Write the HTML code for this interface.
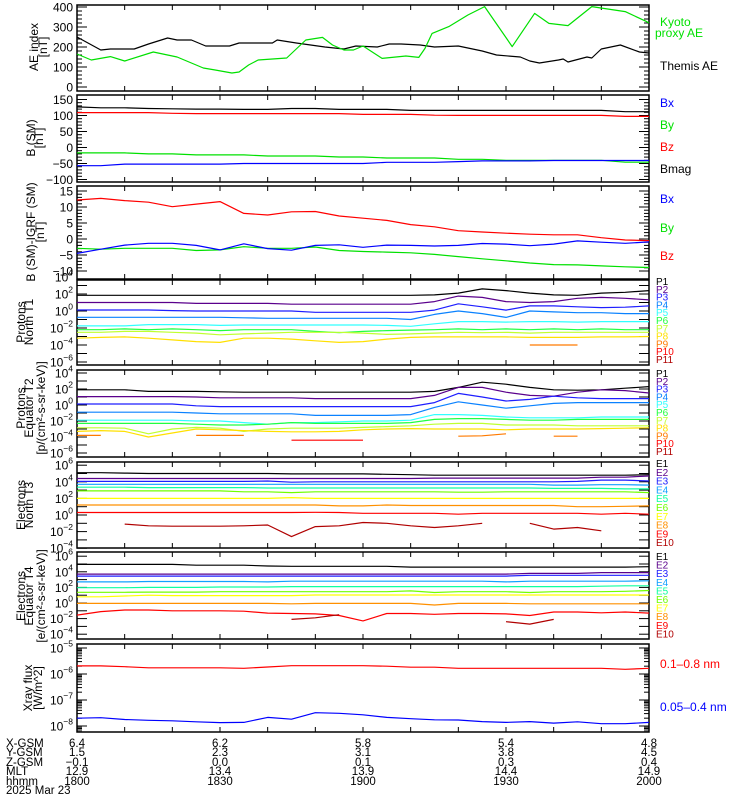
<!DOCTYPE html>
<html><head><meta charset="utf-8"><style>
html,body{margin:0;padding:0;background:#fff;}
svg{display:block;font-family:"Liberation Sans",sans-serif;}
</style></head><body>
<svg id="chart" width="750" height="800" viewBox="0 0 750 800" xmlns="http://www.w3.org/2000/svg"></svg>
<script>
// ---------- DATA ----------
const grid5 = [0,5,10,15,20,25,30,35,40,45,50,55,60,65,70,75,80,85,90,95,100,105,110,115,120];
const aeKyotoT = [0,3,7,10,16,21,24,26.5,29,32.5,34,36,38,44,48,51.5,53.6,56,58,60,64,69,71.7,73,74.5,78,82,85.5,91.3,96,99,103,108,115,119.5,120];
const aeKyoto = [165,135,152,130,175,150,120,95,85,70,75,110,135,145,235,248,210,185,185,205,143,155,148,193,268,302,360,402,202,368,318,307,402,377,327,320];
const aeThemisT = [0,5,7,12,15,19,21,24,27,32,34,41,42,46,52,56,58.5,63,65.5,68,72,75,80,85,88,93,95,97,101,102,103,107,108,110,114,118,120];
const aeThemis = [250,185,190,190,215,245,235,235,205,205,220,220,235,220,200,190,205,200,215,215,210,200,205,180,160,150,130,120,135,140,125,150,145,190,210,175,170];

const bBx = [-57,-57,-52,-52,-52,-52,-52,-50,-50,-50,-50,-50,-50,-46.4,-46.4,-46.4,-44,-42,-42,-42,-40.6,-40.6,-40.6,-40.6,-40.6];
const bBy = [-17,-17,-17,-20,-20,-23,-23,-23,-26.5,-26.5,-26.5,-29.7,-29.7,-32.8,-32.8,-32.8,-37,-37,-40,-40,-40,-40,-40,-46,-46];
const bBz = [109,109,109,109,107,106,106,106,106,106,106,106,103.5,103.5,103.5,101,100.4,100.4,100.4,100.4,100.4,100.4,100.4,97.3,97.3];
const bBmag = [127,124,124,122,121,120,120,119,119,122,122,119,119,119,116,116,116,116,116,116,116,116,116,112,112];

const dBx = [-4.5,-3.2,-1.9,-1.35,-1.35,-2.0,-3.4,-1.5,-3.0,-3.5,-2.0,-1.8,-2.6,-1.9,-2.0,-2.2,-2.0,-1.4,-1.6,-2.1,-1.6,-0.6,-1.0,-1.35,-0.9];
const dBy = [-2.9,-3.2,-2.9,-2.9,-2.9,-3.6,-3.4,-2.4,-2.9,-2.9,-2.5,-3.6,-3.9,-4.1,-4.3,-4.8,-5.5,-6.2,-6.8,-7.5,-8.0,-8.1,-8.4,-8.7,-8.9];
const dBz = [12.2,12.7,12.0,11.5,10.1,10.9,11.7,8.0,7.5,8.5,8.6,7.2,6.5,5.8,4.5,3.8,2.6,2.2,1.8,1.5,1.3,1.3,0.4,-0.3,-0.5];

const pT1_P1 = [1.85,1.85,1.85,1.85,1.85,1.85,1.85,1.85,1.85,1.85,1.85,1.85,1.85,1.85,1.85,1.9,2.1,2.6,2.4,2.1,1.9,1.85,2.1,2.2,2.4];
const pT1_P2 = [1.0,1.0,1.0,1.0,1.0,0.9,0.9,0.9,0.9,0.8,0.8,0.8,0.8,0.8,0.8,1.1,1.75,1.6,1.1,1.0,1.1,1.5,1.6,1.5,1.3];
const pT1_P3 = [0.12,0.12,0.12,0.12,0.05,0,0,0,0,0,-0.15,-0.15,-0.15,-0.15,-0.15,0.1,0.85,0.5,0.1,0.6,0.6,0.5,0.4,0.45,0.6];
const pT1_P4 = [-0.74,-0.74,-0.74,-0.74,-0.74,-0.74,-0.74,-0.8,-0.86,-0.86,-0.86,-0.86,-0.86,-0.86,-1.0,-0.4,0.0,-0.3,-0.75,0.0,-0.1,-0.2,-0.2,-0.3,-0.3];
const pT1_P5 = [-1.75,-1.75,-1.75,-1.6,-1.6,-1.6,-1.7,-1.65,-1.65,-1.65,-1.65,-1.65,-1.65,-1.7,-1.8,-1.5,-1.25,-1.25,-1.3,-1.25,-1.25,-1.3,-1.25,-1.25,-1.25];
const pT1_P6 = [-2.2,-2.2,-2.1,-2.2,-2.1,-2.2,-2.3,-2.2,-2.2,-2.2,-2.4,-2.55,-2.4,-2.3,-2.25,-2.2,-2.1,-2.2,-2.1,-2.2,-2.1,-2.2,-2.1,-2.2,-2.2];
const pT1_P7 = [-2.5,-2.5,-2.4,-2.4,-2.5,-2.6,-2.8,-2.7,-2.6,-2.5,-2.5,-2.5,-2.6,-2.75,-2.7,-2.6,-2.5,-2.55,-2.5,-2.6,-2.5,-2.5,-2.5,-2.5,-2.5];
const pT1_P8 = [-3.2,-3.1,-3.05,-3.2,-3.4,-3.6,-3.7,-3.2,-3.2,-3.3,-3.5,-3.7,-3.6,-3.3,-3.1,-3.05,-3.05,-3.05,-3.05,-3.1,-3.1,-3.1,-3.05,-3.05,-3.0];
const pT1_P9 = [null,null,null,null,null,null,null,null,null,null,null,null,null,null,null,null,null,null,null,-4.0,-4.0,-4.0,null,null,null];
const pT1_P10 = [null,null,null,null,null,null,null,null,null,null,null,null,null,null,null,null,null,null,null,null,null,null,null,null,null];
const pT1_P11 = [null,null,null,null,null,null,null,null,null,null,null,null,null,null,null,null,null,null,null,null,null,null,null,null,null];

const pT2_P1 = [1.9,1.9,1.9,1.7,1.7,1.7,1.65,1.6,1.6,1.6,1.6,1.6,1.6,1.6,1.6,1.7,2.2,2.85,2.6,2.2,1.9,1.85,1.9,2.1,2.3];
const pT2_P2 = [1.05,1.05,1.05,1.05,1.05,1.0,0.9,0.9,0.9,0.9,0.8,0.8,0.8,0.8,0.8,1.2,2.2,2.2,1.6,1.2,1.1,1.6,1.9,1.8,1.5];
const pT2_P3 = [0.12,0.12,0.12,0.12,0.12,-0.1,-0.2,-0.2,-0.2,-0.2,-0.2,-0.2,-0.2,-0.2,-0.2,0.3,1.45,1.0,0.5,0.7,1.1,0.9,0.8,0.8,0.8];
const pT2_P4 = [-0.9,-0.9,-0.9,-0.9,-0.9,-1.0,-1.1,-1.1,-1.1,-1.1,-1.3,-1.3,-1.3,-1.3,-1.2,-0.3,0.4,0.0,-0.4,-0.1,0.2,0.3,0.3,0.3,0.3];
const pT2_P5 = [-1.9,-1.9,-1.9,-1.9,-1.9,-2.0,-2.0,-2.2,-2.4,-2.2,-2.2,-2.1,-2.0,-2.0,-1.9,-1.2,-1.2,-1.3,-1.5,-1.6,-1.6,-1.6,-1.5,-1.5,-1.5];
const pT2_P6 = [-2.3,-2.3,-2.3,-2.3,-2.3,-2.4,-2.5,-2.5,-2.4,-2.2,-2.3,-2.3,-2.3,-2.3,-2.2,-1.8,-1.7,-1.7,-1.8,-1.9,-1.9,-1.8,-1.8,-1.8,-1.8];
const pT2_P7 = [-2.85,-2.85,-2.9,-3.6,-3.0,-2.8,-2.9,-3.3,-3.0,-2.9,-2.9,-2.9,-2.8,-2.7,-2.6,-2.4,-2.3,-2.3,-2.5,-2.5,-2.5,-2.6,-2.6,-2.6,-2.6];
const pT2_P8 = [-3.3,-3.2,-3.3,-4.0,-3.5,-3.0,-3.1,-3.2,-3.3,-3.35,-3.35,-3.3,-3.1,-3.0,-2.95,-3.0,-3.0,-3.0,-3.1,-3.0,-3.0,-3.0,-2.95,-2.9,-2.85];
const pT2_P9 = [-3.8,-3.8,null,null,null,-3.8,-3.8,-3.8,null,null,null,null,null,null,null,null,-3.9,-3.85,-3.6,null,-3.9,-3.9,null,null,null];
const pT2_P10 = [null,null,null,null,null,null,null,null,null,-4.4,-4.4,-4.4,-4.4,null,null,null,null,null,null,null,null,null,null,null,null];
const pT2_P11 = [null,null,null,null,null,null,null,null,null,null,null,null,null,null,null,null,null,null,null,null,null,null,null,null,null];

const eT3_E1 = [5.1,5.1,5.05,5.0,5.0,5.0,5.0,5.0,5.0,4.95,4.95,4.95,4.95,4.9,4.85,4.8,4.8,4.8,4.8,4.8,4.8,4.8,4.8,4.8,4.85];
const eT3_E2 = [4.4,4.4,4.4,4.4,4.4,4.4,4.4,4.4,4.4,4.4,4.4,4.4,4.4,4.4,4.4,4.45,4.45,4.45,4.45,4.45,4.45,4.45,4.55,4.55,4.7];
const eT3_E3 = [4.05,4.05,4.05,4.05,4.05,4.05,4.05,4.05,4.1,3.95,4.0,4.0,4.0,4.0,4.0,4.0,4.0,4.0,4.0,4.0,4.0,4.05,4.2,4.2,4.1];
const eT3_E4 = [3.7,3.7,3.7,3.7,3.7,3.7,3.7,3.7,3.7,3.7,3.7,3.7,3.7,3.7,3.7,3.7,3.7,3.7,3.7,3.7,3.6,3.6,3.65,3.65,3.6];
const eT3_E5 = [3.35,3.35,3.35,3.3,3.3,3.3,3.3,3.3,3.25,3.25,3.25,3.25,3.25,3.25,3.25,3.25,3.25,3.25,3.25,3.25,3.2,3.2,3.2,3.15,3.15];
const eT3_E6 = [2.9,2.9,2.9,2.9,2.9,2.9,2.9,2.8,2.8,2.7,2.8,2.8,2.8,2.8,2.8,2.8,2.75,2.75,2.8,2.8,2.8,2.8,2.8,2.8,2.7];
const eT3_E7 = [2.0,2.0,2.0,2.0,2.0,2.0,2.0,2.0,2.0,2.1,2.0,2.0,2.0,2.0,2.0,2.0,2.0,2.0,2.0,2.0,2.0,2.0,2.0,2.0,2.0];
const eT3_E8 = [1.2,1.2,1.2,1.2,1.2,1.2,1.2,1.2,1.2,1.2,1.2,1.1,1.1,1.2,1.15,1.15,1.15,1.15,1.15,1.15,1.15,1.0,1.0,1.05,1.1];
const eT3_E9 = [0.3,0.3,0.3,0.3,0.3,0.3,0.3,0.3,0.3,0.3,0.32,0.3,0.2,0.2,0.2,0.2,0.1,0.2,0.2,0.2,0.2,0.2,0.1,0.2,0.1];
const eT3_E10 = [null,null,-1.1,-1.3,-1.35,-1.35,-1.35,-1.3,-1.2,-2.6,-1.4,-1.3,-0.9,-1.0,-1.3,-1.5,-1.3,-1.0,null,-1.0,-1.7,-1.5,-1.9,null,null];

const eT4_E1 = [4.95,4.95,4.95,4.95,4.95,4.85,4.85,4.85,4.75,4.7,4.7,4.7,4.7,4.7,4.6,4.6,4.6,4.6,4.6,4.6,4.6,4.6,4.6,4.6,4.65];
const eT4_E2 = [3.7,3.7,3.7,3.7,3.7,3.7,3.7,3.7,3.7,3.7,3.7,3.7,3.7,3.7,3.7,3.7,3.7,3.7,3.7,3.8,3.8,3.8,3.9,3.9,3.9];
const eT4_E3 = [3.45,3.45,3.45,3.45,3.45,3.45,3.45,3.45,3.45,3.45,3.45,3.45,3.45,3.45,3.45,3.45,3.45,3.45,3.45,3.55,3.55,3.55,3.55,3.55,3.55];
const eT4_E4 = [2.7,2.7,2.7,2.75,2.75,2.75,2.75,2.75,2.7,2.8,2.8,2.8,2.8,2.8,2.8,2.8,2.8,2.8,2.7,2.8,2.8,2.8,2.8,2.8,2.85];
const eT4_E5 = [1.96,1.96,1.96,2.0,2.0,2.0,2.05,2.05,2.05,2.1,2.1,2.1,2.1,2.1,2.1,2.1,2.1,2.1,2.1,2.1,2.1,2.1,2.15,2.2,2.2];
const eT4_E6 = [1.37,1.37,1.37,1.4,1.4,1.4,1.45,1.45,1.45,1.45,1.45,1.45,1.45,1.45,1.55,1.35,1.45,1.45,1.45,1.35,1.45,1.45,1.45,1.5,1.6];
const eT4_E7 = [0.8,0.8,0.9,1.0,0.95,0.95,0.95,0.95,0.95,0.95,1.03,1.03,1.03,1.03,1.03,1.03,1.03,1.03,1.03,1.03,1.03,1.03,1.03,1.03,1.03];
const eT4_E8 = [-0.05,-0.05,-0.05,-0.05,-0.05,-0.05,-0.05,-0.05,-0.05,-0.1,-0.05,-0.05,-0.05,-0.05,-0.05,-0.25,-0.05,-0.05,-0.05,-0.1,-0.1,-0.1,-0.1,-0.1,-0.1];
const eT4_E9 = [-1.55,-1.1,-0.9,-0.9,-1.0,-1.0,-1.0,-1.05,-1.3,-1.35,-1.4,-1.6,-2.3,-1.35,-1.35,-1.45,-1.35,-1.35,-1.4,-1.6,-1.15,-1.15,-1.25,-1.15,-1.3];
const eT4_E10 = [null,null,null,null,null,null,null,null,null,-2.1,-1.9,-1.5,null,null,null,null,null,null,-2.4,-2.7,-2.1,null,null,null,null];

const xrayLong = [-5.69,-5.69,-5.72,-5.76,-5.76,-5.76,-5.76,-5.78,-5.73,-5.68,-5.68,-5.68,-5.68,-5.7,-5.74,-5.74,-5.78,-5.78,-5.78,-5.78,-5.78,-5.78,-5.78,-5.82,-5.78];
const xrayShort = [-7.7,-7.68,-7.75,-7.78,-7.8,-7.84,-7.87,-7.86,-7.67,-7.74,-7.49,-7.51,-7.57,-7.67,-7.72,-7.76,-7.77,-7.83,-7.86,-7.83,-7.89,-7.84,-7.91,-7.91,-7.86];

const xTickMinutes = [0,10,20,30,40,50,60,70,80,90,100,110,120];
const posColumns = [0,30,60,90,120];
const xgsmVals = ['6.4','6.2','5.8','5.4','4.8'];
const ygsmVals = ['1.5','2.3','3.1','3.8','4.5'];
const zgsmVals = ['-0.1','0.0','0.1','0.3','0.4'];
const mltVals = ['12.9','13.4','13.9','14.4','14.9'];
const hhmmVals = ['1800','1830','1900','1930','2000'];

// ---------- DRAWING ----------
const svg = document.getElementById('chart');
const NS = 'http://www.w3.org/2000/svg';
const X0 = 77, X1 = 649;
function xS(t){ return X0 + (X1 - X0) * t / 120; }
function mk(tag, attrs, name, parent){
  const el = document.createElementNS(NS, tag);
  for (const k in attrs) el.setAttribute(k, attrs[k]);
  
  
  (parent || svg).appendChild(el);
  return el;
}
function txt(x, y, s, name, opts){
  opts = opts || {};
  const t = mk('text', {x:x, y:y, 'font-size':opts.size||12, fill:opts.fill||'#000', 'text-anchor':opts.anchor||'start'}, name, opts.parent);
  if (opts.rot) t.setAttribute('transform', 'rotate(-90 '+x+' '+y+')');
  t.textContent = s;
  return t;
}
function panel(name, top, bot){
  const g = mk('g', {}, name);
  mk('rect', {x:X0, y:top, width:X1-X0, height:bot-top, fill:'none', stroke:'#000', 'stroke-width':1.5}, name+'-frame', g);
  xTickMinutes.forEach(m => {
    const x = xS(m);
    mk('line', {x1:x, y1:bot, x2:x, y2:bot-5, stroke:'#000', 'stroke-width':1}, name+'-x-tick', g);
    mk('line', {x1:x, y1:top, x2:x, y2:top+5, stroke:'#000', 'stroke-width':1}, name+'-x-tick', g);
  });
  return g;
}
function series(g, times, vals, yf, color, name, top, bot){
  let d = '', pen = false;
  for (let i=0;i<vals.length;i++){
    const v = vals[i];
    if (v === null || v === undefined){ pen = false; continue; }
    let y = yf(v); y = Math.max(top, Math.min(bot, y));
    d += (pen ? 'L' : 'M') + xS(times[i]).toFixed(1) + ' ' + y.toFixed(1) + ' ';
    pen = true;
  }
  if (d) mk('path', {d:d, fill:'none', stroke:color, 'stroke-width':1.2, 'stroke-linejoin':'round'}, name, g);
}
function linTicks(g, name, top, bot, yf, lo, hi, major, minor){
  for (let v=lo; v<=hi+1e-9; v+=minor){
    const y = yf(v); if (y < top-0.5 || y > bot+0.5) continue;
    const isMaj = Math.abs(v/major - Math.round(v/major)) < 1e-6;
    const L = isMaj ? 10 : 5;
    mk('line', {x1:X0, y1:y, x2:X0+L, y2:y, stroke:'#000'}, name+'-y-tick', g);
    mk('line', {x1:X1, y1:y, x2:X1-L, y2:y, stroke:'#000'}, name+'-y-tick', g);
    if (isMaj) txt(73, y+4.5, String(Math.round(v)).replace('-', '\u2212'), name+'-y-tick-label', {anchor:'end', size:12, parent:g});
  }
}
function logLabel(g, name, y, e){
  const t = mk('text', {x:73, y:y+4.5, 'font-size':12, 'text-anchor':'end'}, name+'-y-tick-label', g);
  t.appendChild(document.createTextNode('10'));
  const s = document.createElementNS(NS, 'tspan');
  s.setAttribute('dy', -6); s.setAttribute('font-size', 8.5);
  s.textContent = String(e).replace('-', '\u2212');
  t.appendChild(s);
}
function logTicks(g, name, top, bot, yf, lo, hi, labelStep, minorLog){
  for (let e=lo; e<=hi; e++){
    const y = yf(e);
    if (y >= top-0.5 && y <= bot+0.5){
      mk('line', {x1:X0, y1:y, x2:X0+10, y2:y, stroke:'#000'}, name+'-y-tick', g);
      mk('line', {x1:X1, y1:y, x2:X1-10, y2:y, stroke:'#000'}, name+'-y-tick', g);
    }
    if ((e - lo) % labelStep === 0 && y >= top-5 && y <= bot+4) logLabel(g, name, y, e);
    if (minorLog){
      for (let k=2;k<10;k++){
        const ym = yf(e + Math.log10(k));
        if (ym < top || ym > bot) continue;
        mk('line', {x1:X0, y1:ym, x2:X0+5, y2:ym, stroke:'#000'}, name+'-y-minor-tick', g);
        mk('line', {x1:X1, y1:ym, x2:X1-5, y2:ym, stroke:'#000'}, name+'-y-minor-tick', g);
      }
    }
  }
}
function ytitle(g, name, lines){
  lines.forEach(l => txt(l[0], l[1], l[2], name, {rot:true, anchor:'middle', size:12, parent:g}));
}

(function(){
  const top=5, bot=91, yf = v => 87 - 0.2*v;
  const g = panel('ae-index-panel', top, bot);
  linTicks(g, 'ae', top, bot, yf, 0, 400, 100, 20);
  series(g, aeThemisT, aeThemis, yf, '#000', 'themis-ae-line', top, bot);
  series(g, aeKyotoT, aeKyoto, yf, '#00e000', 'kyoto-ae-line', top, bot);
  ytitle(g, 'ae-y-axis-title', [[38,47,'AE index'],[47,47,'[nT]']]);
  txt(660,26,'Kyoto','legend-kyoto',{fill:'#00e000',size:12,parent:g});
  txt(655,37,'proxy AE','legend-kyoto',{fill:'#00e000',size:12,parent:g});
  txt(660,70,'Themis AE','legend-themis',{size:12,parent:g});
})();
(function(){
  const top=95, bot=182, yf = v => 147.5 - 0.32*v;
  const g = panel('b-sm-panel', top, bot);
  linTicks(g, 'bsm', top, bot, yf, -100, 150, 50, 10);
  series(g, grid5, bBmag, yf, '#000', 'bmag-line', top, bot);
  series(g, grid5, bBz, yf, '#ff0000', 'bz-line', top, bot);
  series(g, grid5, bBy, yf, '#00e000', 'by-line', top, bot);
  series(g, grid5, bBx, yf, '#0000ff', 'bx-line', top, bot);
  ytitle(g, 'bsm-y-axis-title', [[35,138,'B (SM)'],[43,138,'[nT]']]);
  txt(660,107,'Bx','legend-bx',{fill:'#0000ff',parent:g});
  txt(660,129,'By','legend-by',{fill:'#00e000',parent:g});
  txt(660,151,'Bz','legend-bz',{fill:'#ff0000',parent:g});
  txt(660,173,'Bmag','legend-bmag',{parent:g});
})();
(function(){
  const top=186, bot=279, yf = v => 239 - 3.2*v;
  const g = panel('db-igrf-panel', top, bot);
  linTicks(g, 'db', top, bot, yf, -10, 15, 5, 1);
  series(g, grid5, dBz, yf, '#ff0000', 'dbz-line', top, bot);
  series(g, grid5, dBy, yf, '#00e000', 'dby-line', top, bot);
  series(g, grid5, dBx, yf, '#0000ff', 'dbx-line', top, bot);
  ytitle(g, 'db-y-axis-title', [[35,232,'B (SM)-IGRF (SM)'],[44,232,'[nT]']]);
  txt(660,203,'Bx','legend-dbx',{fill:'#0000ff',parent:g});
  txt(660,232,'By','legend-dby',{fill:'#00e000',parent:g});
  txt(660,260,'Bz','legend-dbz',{fill:'#ff0000',parent:g});
})();

const pColors = ['#000000','#5a008c','#1e1eff','#0a82ff','#30ffff','#20ff40','#c0ff30','#ffe000','#ff7a00','#ff0000','#b00000'];
const eColors = ['#000000','#5a008c','#1e1eff','#10a0ff','#10ffa0','#70ff00','#ffff00','#ff9000','#ff0000','#b00000'];

function fluxPanel(name, top, bot, yf, lo, hi, list, colors, prefix, labTop, labStep, titles){
  const g = panel(name, top, bot);
  logTicks(g, name, top, bot, yf, lo, hi, 2, false);
  list.forEach((arr,i) => series(g, grid5, arr, yf, colors[i], name+'-'+prefix.toLowerCase()+(i+1)+'-line', top, bot));
  list.forEach((arr,i) => txt(656, labTop + i*labStep, prefix+(i+1), 'legend-'+prefix.toLowerCase()+(i+1), {fill:colors[i], size:10, parent:g}));
  ytitle(g, name+'-y-axis-title', titles);
}
fluxPanel('protons-north-t1-panel', 280, 365, e => 311 - 8.5*e, -6, 4,
  [pT1_P1,pT1_P2,pT1_P3,pT1_P4,pT1_P5,pT1_P6,pT1_P7,pT1_P8,pT1_P9,pT1_P10,pT1_P11], pColors, 'P', 285, 7.8,
  [[25,322,'Protons'],[33,322,'North T1']]);
fluxPanel('protons-equator-t2-panel', 370, 457, e => 405 - 8*e, -6, 4,
  [pT2_P1,pT2_P2,pT2_P3,pT2_P4,pT2_P5,pT2_P6,pT2_P7,pT2_P8,pT2_P9,pT2_P10,pT2_P11], pColors, 'P', 377, 7.8,
  [[25,408,'Protons'],[33,408,'Equator T2'],[45,408,'[p/(cm\u00b2-s-sr-keV)]']]);
fluxPanel('electrons-north-t3-panel', 462, 548, e => 515 - 8.3*e, -4, 6,
  [eT3_E1,eT3_E2,eT3_E3,eT3_E4,eT3_E5,eT3_E6,eT3_E7,eT3_E8,eT3_E9,eT3_E10], eColors, 'E', 467, 8.8,
  [[25,505,'Electrons'],[33,505,'North T3']]);
fluxPanel('electrons-equator-t4-panel', 552, 639, e => 603 - 7.8*e, -4, 6,
  [eT4_E1,eT4_E2,eT4_E3,eT4_E4,eT4_E5,eT4_E6,eT4_E7,eT4_E8,eT4_E9,eT4_E10], eColors, 'E', 560, 8.6,
  [[25,596,'Electrons'],[33,596,'Equator T4'],[45,596,'[e/(cm\u00b2-s-sr-keV)]']]);

(function(){
  const top=644, bot=732, yf = e => 674 - 26*(e+6);
  const g = panel('xray-flux-panel', top, bot);
  logTicks(g, 'xray', top, bot, yf, -9, -5, 1, true);
  series(g, grid5, xrayLong, yf, '#ff0000', 'xray-long-line', top, bot);
  series(g, grid5, xrayShort, yf, '#0000ff', 'xray-short-line', top, bot);
  ytitle(g, 'xray-y-axis-title', [[32,688,'Xray flux'],[42,688,'[W/m^2]']]);
  txt(660,668,'0.1\u20130.8 nm','legend-xray-long',{fill:'#ff0000',parent:g});
  txt(660,711,'0.05\u20130.4 nm','legend-xray-short',{fill:'#0000ff',parent:g});
})();

(function(){
  const g = mk('g', {}, 'orbit-annotation-table');
  const rows = [['X-GSM',xgsmVals,747],['Y-GSM',ygsmVals,756],['Z-GSM',zgsmVals,766],['MLT',mltVals,775],['hhmm',hhmmVals,785]];
  rows.forEach(r => {
    txt(6, r[2], r[0], 'row-label-'+r[0].toLowerCase(), {size:11.5, parent:g});
    r[1].forEach((v,i) => txt(xS(posColumns[i]), r[2], v.replace('-', '\u2212'), 'x-axis-value', {size:11.5, anchor:'middle', parent:g}));
  });
  txt(6, 794, '2025 Mar 23', 'date-label', {size:11.5, parent:g});
})();
</script>
</body></html>
